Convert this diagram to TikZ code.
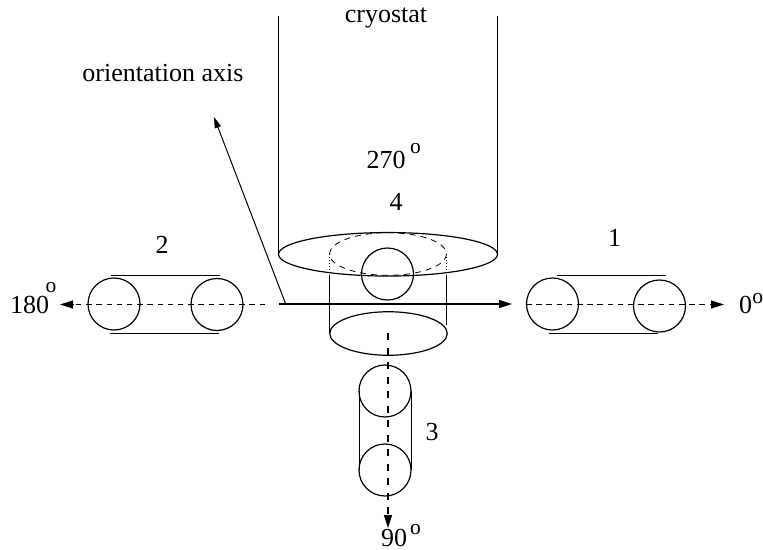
\documentclass[tikz,border=0pt]{standalone}
\usepackage{fontspec}
\setmainfont{Liberation Serif}
\usetikzlibrary{arrows.meta,shapes.geometric}
\tikzset{
  x=1pt,y=-1pt,
  every path/.style={line width=1.2pt,black},
  roller/.style={circle,draw,line width=1.2pt,minimum size=52pt,inner sep=0pt,outer sep=0pt},
  disc/.style={ellipse,draw,line width=1.2pt,minimum height=43.5pt,inner sep=0pt,outer sep=0pt},
  thinline/.style={line width=1pt},
  dashline/.style={line width=1.3pt,dash pattern=on 5.5pt off 4.7pt},
  vdashline/.style={line width=1.3pt,dash pattern=on 7pt off 7.5pt},
  dotline/.style={line width=0.7pt,dash pattern=on 1pt off 2pt},
  tip/.style={-{Triangle[length=13pt,width=8pt]}},
  lab/.style={inner sep=0pt,outer sep=0pt,font=\fontsize{26}{26}\selectfont},
  smalllab/.style={inner sep=0pt,outer sep=0pt,font=\fontsize{21.5}{22}\selectfont},
}
\begin{document}
\begin{tikzpicture}
\useasboundingbox (0,0) rectangle (763,549);
% cryostat
\coordinate (cl) at (278.5,16); \coordinate (cr) at (497.5,16);
\node[disc,minimum width=219pt] (top) at (388,254.3) {};
\node[disc,minimum width=117.5pt] (low) at (388.5,333.5) {};
\draw (cl) -- (top.west);
\draw (cr) -- (top.east);
\coordinate (dl) at (329.5,254); \coordinate (dr) at (446.5,254);
\coordinate (ml) at (329.5,276); \coordinate (mr) at (446.5,276);
\coordinate (el) at (329.5,333); \coordinate (er) at (446.5,325);
\draw[dash pattern=on 6pt off 5pt,line width=0.8pt] (388,254) ellipse [x radius=58.5,y radius=21.3];
\draw[dotline] (dl) -- (ml);
\draw[dotline] (dr) -- (mr);
\draw (ml) -- (el);
\draw (mr) -- (er);
% centre roller 4
\node[roller] (c4) at (387.5,274) {};
% axis
\coordinate (a0) at (279,304); \coordinate (a1) at (512,304);
\coordinate (a2) at (285.7,304); \coordinate (a3) at (214,117);
\draw[tip] (a0) -- (a1);
\draw[thinline,-{Triangle[length=11pt,width=6.5pt]}] (a2) -- (a3);
% rollers 1
\node[roller] (r1a) at (552.5,304) {};
\node[roller] (r1b) at (659.5,306) {};
\coordinate (t1a) at (557,275); \coordinate (t1b) at (666,275);
\coordinate (b1a) at (549,333); \coordinate (b1b) at (658,333);
\draw[thinline] (t1a) -- (t1b);
\draw[thinline] (b1a) -- (b1b);
\coordinate (d1s) at (526,304.5); \coordinate (d1m) at (712,304.5); \coordinate (d1e) at (724,304.5);
\draw[dashline] (d1s) -- (d1m);
\draw[tip] (d1m) -- (d1e);
% rollers 2
\node[roller] (r2a) at (114,304) {};
\node[roller] (r2b) at (217,304.5) {};
\coordinate (t2a) at (111,275); \coordinate (t2b) at (220,275);
\coordinate (b2a) at (110,333); \coordinate (b2b) at (219,333);
\draw[thinline] (t2a) -- (t2b);
\draw[thinline] (b2a) -- (b2b);
\coordinate (d2s) at (265,304.5); \coordinate (d2m) at (73,304.5); \coordinate (d2e) at (60,304.5);
\draw[dashline] (d2s) -- (d2m);
\draw[tip] (d2m) -- (d2e);
% rollers 3
\node[roller] (r3a) at (385,391) {};
\node[roller] (r3b) at (385,470) {};
\draw[thinline] (r3a.west) -- (r3b.west);
\draw[thinline] (r3a.east) -- (r3b.east);
\coordinate (d3s) at (388,333); \coordinate (d3m) at (388,515); \coordinate (d3e) at (388,528);
\draw[vdashline] (d3s) -- (d3m);
\draw[tip] (d3m) -- (d3e);
% labels
\node[lab,anchor=base] (cry) at (386,22.7) {cryostat};
\node[lab,anchor=base] (ori) at (163,81) {orientation axis};
\node[lab,anchor=base] (t270) at (386,168.5) {270};
\node[smalllab,anchor=base west] (o270) at (410,153) {o};
\node[lab] (n4) at (396,202) {4};
\node[lab] (n2) at (162,245) {2};
\node[lab] (n1) at (614.5,237.5) {1};
\node[lab] (n3) at (432,432) {3};
\node[lab,anchor=base west] (t180) at (10,313) {180};
\node[smalllab,anchor=base west] (o180) at (45.5,292) {o};
\node[lab,anchor=base west] (t0) at (739,313) {0};
\node[smalllab,anchor=base west] (o0) at (752.3,303) {o};
\node[lab,anchor=base west] (t90) at (381,546.5) {90};
\node[smalllab,anchor=base west] (o90) at (410,534.5) {o};
\end{tikzpicture}
\end{document}
